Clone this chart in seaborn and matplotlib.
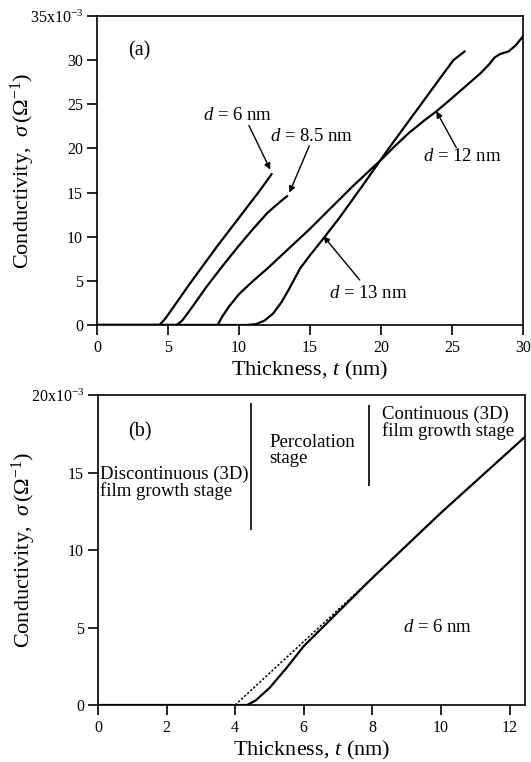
import numpy as np
import pandas as pd
import matplotlib
matplotlib.use("Agg")
import matplotlib.pyplot as plt
import seaborn as sns

# ---------------- data (panel a) ----------------
d6_t = [0, 4.4, 4.8, 5.5, 6.5, 7.5, 8.5, 9.5, 10.5, 11.5, 12.3]
d6_s = [0, 0, 0.7, 2.3, 4.6, 6.8, 9.0, 11.1, 13.2, 15.3, 17.1]

d85_t = [0, 5.6, 6.0, 6.6, 7.7, 8.8, 10.0, 11.0, 12.0, 13.0, 13.4]
d85_s = [0, 0, 0.5, 1.8, 4.3, 6.6, 9.0, 10.9, 12.7, 14.1, 14.6]

d12_t = [0, 8.5, 8.8, 9.3, 10, 11, 12, 13, 14, 15, 16, 17, 18, 19, 20, 20.5,
         21, 22, 23, 23.9, 25, 26, 27, 27.6, 28, 28.4, 29, 29.5, 30]
d12_s = [0, 0, 0.9, 2.1, 3.5, 5.0, 6.4, 7.9, 9.4, 10.9, 12.5, 14.1, 15.7, 17.2, 18.7, 19.5,
         20.3, 21.8, 23.1, 24.2, 25.7, 27.1, 28.5, 29.5, 30.3, 30.7, 31.0, 31.7, 32.7]

d13_t = [0, 10.5, 11.2, 11.8, 12.4, 13.0, 13.5, 14.3, 15.0, 15.7, 17.1, 18.75,
         20.5, 21.5, 23.0, 24.0, 25.1, 25.9]
d13_s = [0, 0, 0.1, 0.5, 1.3, 2.6, 4.0, 6.4, 7.9, 9.3, 12.2, 15.9,
         19.9, 22.1, 25.4, 27.6, 30.0, 31.0]

# ---------------- data (panel b) ----------------
b_t = [0, 4.35, 4.6, 5.0, 5.5, 6.0, 7.0, 8.0, 9.0, 10.0, 11.0, 12.0, 12.45]
b_s = [0, 0, 0.3, 1.1, 2.4, 3.8, 6.0, 8.2, 10.3, 12.4, 14.4, 16.4, 17.3]
b_fit_t = [4.0, 8.1]
b_fit_s = [0.0, 8.4]

a_xticks = [0, 5, 10, 15, 20, 25, 30]
a_yticks = [0, 5, 10, 15, 20, 25, 30, 35]
a_yticklabels = ["0", "5", "10", "15", "20", "25", "30", "35x10$^{-3}$"]
b_xticks = [0, 2, 4, 6, 8, 10, 12]
b_yticks = [0, 5, 10, 15, 20]
b_yticklabels = ["0", "5", "10", "15", "20x10$^{-3}$"]

# ---------------- style ----------------
sns.set_style("ticks")
plt.rcParams["font.family"] = ["Liberation Serif", "DejaVu Serif"]
plt.rcParams["mathtext.fontset"] = "custom"
plt.rcParams["mathtext.rm"] = "Liberation Serif"
plt.rcParams["mathtext.it"] = "Liberation Serif:italic"
plt.rcParams["mathtext.bf"] = "Liberation Serif:bold"
plt.rcParams["axes.linewidth"] = 1.2
plt.rcParams["axes.edgecolor"] = "black"
plt.rcParams["text.color"] = "black"
plt.rcParams["axes.labelcolor"] = "black"
plt.rcParams["xtick.color"] = "black"
plt.rcParams["ytick.color"] = "black"

W, H = 531, 762
fig = plt.figure(figsize=(W / 100, H / 100), dpi=100)
ax_a = fig.add_axes([97 / W, 1 - 325 / H, (523 - 97) / W, (325 - 16) / H])
ax_b = fig.add_axes([98 / W, 1 - 705 / H, (525 - 98) / W, (705 - 395) / H])

LW = 1.6
for t, s in [(d6_t, d6_s), (d85_t, d85_s), (d12_t, d12_s), (d13_t, d13_s)]:
    df = pd.DataFrame({"t": t, "s": s})
    sns.lineplot(data=df, x="t", y="s", ax=ax_a, color="black", lw=LW,
                 estimator=None, sort=False, legend=False)

df_b = pd.DataFrame({"t": b_t, "s": b_s})
sns.lineplot(data=df_b, x="t", y="s", ax=ax_b, color="black", lw=LW,
             estimator=None, sort=False, legend=False)
df_fit = pd.DataFrame({"t": b_fit_t, "s": b_fit_s})
sns.lineplot(data=df_fit, x="t", y="s", ax=ax_b, color="black", lw=1.1,
             estimator=None, sort=False, legend=False, linestyle=(0, (1.5, 1.2)))

for ax in (ax_a, ax_b):
    for sp in ax.spines.values():
        sp.set_visible(True)
        sp.set_linewidth(1.2)
    ax.tick_params(direction="out", length=7, width=1.2, labelsize=11.5,
                   pad=3, colors="black")
    ax.tick_params(axis="x", pad=4)
    ax.set_xlabel("Thickness, $t$ (nm)", fontsize=16, labelpad=2, color="black")
    ax.set_ylabel(r"Conductivity,  $\sigma\,(\Omega^{-1})$", fontsize=16, color="black")
    ax.yaxis.set_label_coords(-0.14, 0.5)

ax_a.set_xlim(0, 30)
ax_a.set_ylim(0, 35)
ax_a.set_xticks(a_xticks)
ax_a.set_xticklabels([str(v) for v in a_xticks])
ax_a.set_yticks(a_yticks)
ax_a.set_yticklabels(a_yticklabels)

ax_b.set_xlim(0, 12.45)
ax_b.set_ylim(0, 20)
ax_b.set_xticks(b_xticks)
ax_b.set_xticklabels([str(v) for v in b_xticks])
ax_b.set_yticks(b_yticks)
ax_b.set_yticklabels(b_yticklabels)

FS = 13.5
arrow = dict(arrowstyle="-|>", color="black", lw=1.0, mutation_scale=9,
             shrinkA=0, shrinkB=0)

ax_a.text(3.0, 31.0, "(a)", fontsize=14.5, ha="center", va="center")
ax_a.text(9.9, 23.7, "$d$ = 6 nm", fontsize=FS, ha="center", va="center")
ax_a.annotate("", xy=(12.2, 17.6), xytext=(10.7, 22.6), arrowprops=arrow)
ax_a.text(15.1, 21.4, "$d$ = 8.5 nm", fontsize=FS, ha="center", va="center")
ax_a.annotate("", xy=(13.55, 15.0), xytext=(14.95, 20.3), arrowprops=arrow)
ax_a.text(25.7, 19.1, "$d$ = 12 nm", fontsize=FS, ha="center", va="center")
ax_a.annotate("", xy=(23.9, 24.2), xytext=(25.3, 20.1), arrowprops=arrow)
ax_a.text(19.1, 3.6, "$d$ = 13 nm", fontsize=FS, ha="center", va="center")
ax_a.annotate("", xy=(15.95, 10.06), xytext=(18.5, 5.1), arrowprops=arrow)

ax_b.text(1.22, 17.6, "(b)", fontsize=14.5, ha="center", va="center")
ax_b.text(0.06, 14.35, "Discontinuous (3D)\nfilm growth stage", fontsize=FS,
          ha="left", va="center", linespacing=0.95)
ax_b.vlines(4.45, 11.3, 19.5, color="black", lw=1.2)
ax_b.text(5.0, 16.4, "Percolation\nstage", fontsize=FS,
          ha="left", va="center", linespacing=0.95)
ax_b.vlines(7.91, 14.1, 19.35, color="black", lw=1.2)
ax_b.text(8.27, 18.2, "Continuous (3D)\nfilm growth stage", fontsize=FS,
          ha="left", va="center", linespacing=0.95)
ax_b.text(9.9, 5.0, "$d$ = 6 nm", fontsize=FS, ha="center", va="center")

fig.savefig("out.png", dpi=100)
